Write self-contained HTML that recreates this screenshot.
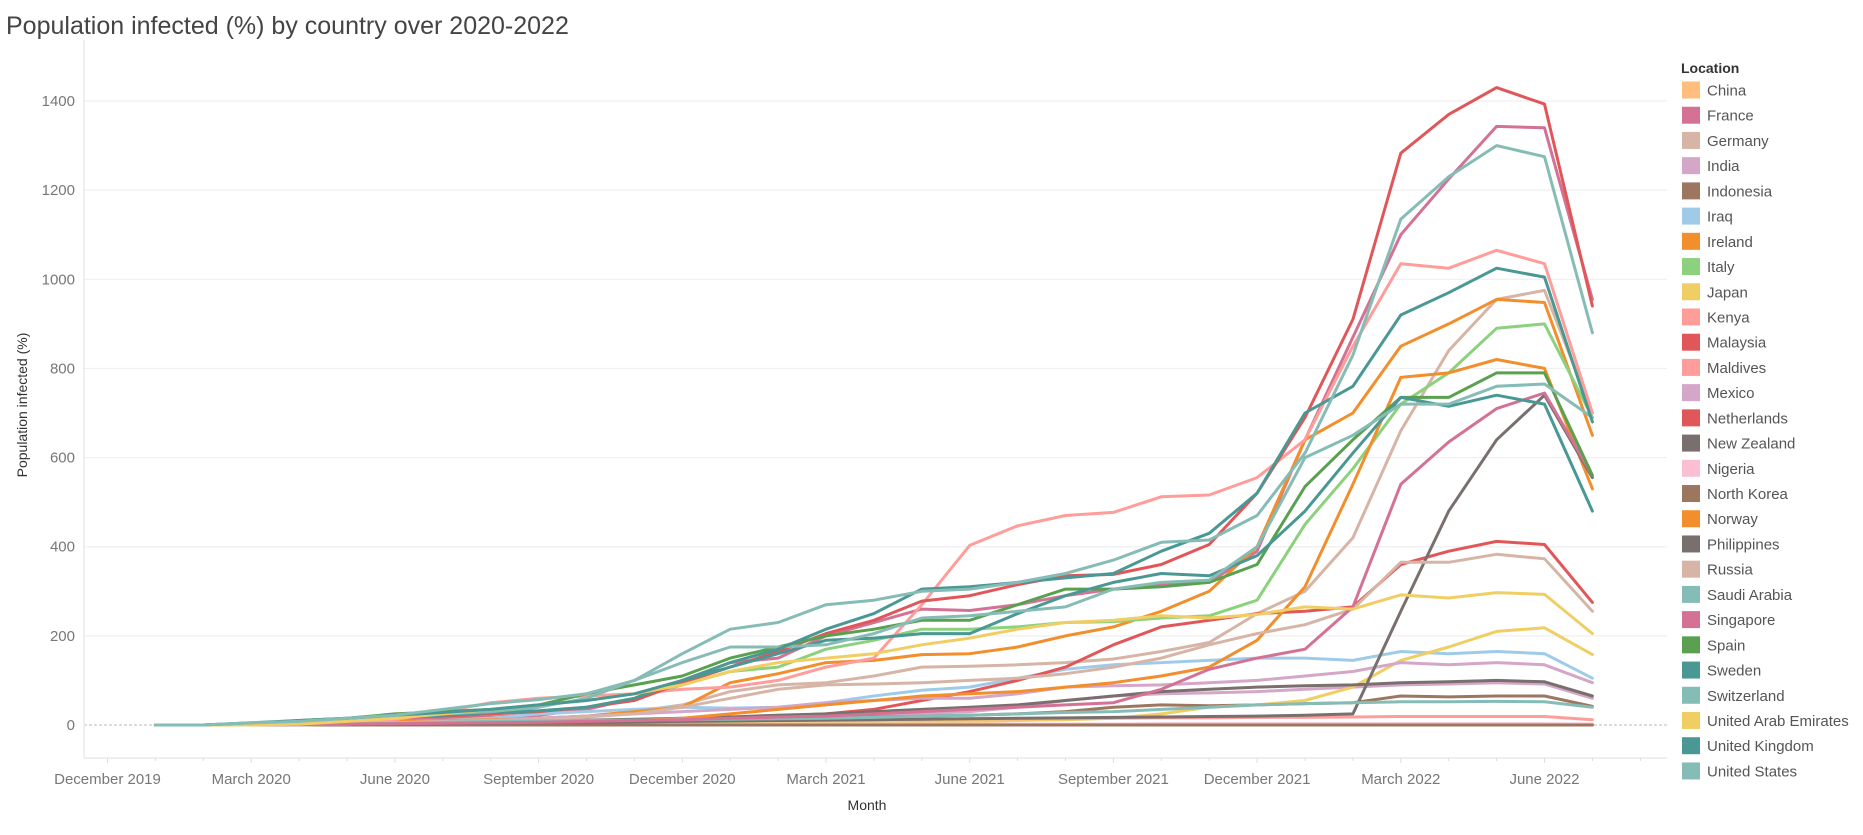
<!DOCTYPE html>
<html><head><meta charset="utf-8"><style>
body{margin:0;background:#fff;}
svg text{font-family:"Liberation Sans",sans-serif;}
</style></head><body>
<svg id="chart" width="1863" height="830" xmlns="http://www.w3.org/2000/svg">
<text x="6" y="34" font-size="25" fill="#444">Population infected (%) by country over 2020-2022</text>
<g id="grid"></g>
<g id="axes"></g>
<g id="lines"></g>
<text transform="translate(27,405) rotate(-90)" text-anchor="middle" font-size="14" fill="#333">Population infected (%)</text>
<text x="867" y="810" text-anchor="middle" font-size="14" fill="#333">Month</text>
<g id="legend"></g>
</svg>
<script>
const months = 31;
const yTicks = [0,200,400,600,800,1000,1200,1400];
const xTickLabels = ["December 2019","March 2020","June 2020","September 2020","December 2020","March 2021","June 2021","September 2021","December 2021","March 2022","June 2022"];
const xTickIdx = [-1,2,5,8,11,14,17,20,23,26,29];
const countries = ["China","France","Germany","India","Indonesia","Iraq","Ireland","Italy","Japan","Kenya","Malaysia","Maldives","Mexico","Netherlands","New Zealand","Nigeria","North Korea","Norway","Philippines","Russia","Saudi Arabia","Singapore","Spain","Sweden","Switzerland","United Arab Emirates","United Kingdom","United States"];
const colors = ["#ffbe7d","#d37295","#d7b5a6","#d4a6c8","#9d7660","#a0cbe8","#f28e2b","#8cd17d","#f1ce63","#ff9d9a","#e15759","#ff9d9a","#d4a6c8","#e15759","#79706e","#fabfd2","#9d7660","#f28e2b","#79706e","#d7b5a6","#86bcb6","#d37295","#59a14f","#499894","#86bcb6","#f1ce63","#499894","#86bcb6"];
const china = [0,0,0,0,0,0,0,0,0,0,0,0,0,0,0,0,0,0,0,0,0,0,0,0,0,0,1,1,1,1,1];
const france = [0,0,1,4,8,12,15,18,22,35,60,100,140,150,200,230,260,257,270,290,305,315,320,390,640,870,1100,1225,1343,1340,955];
const germany = [0,0,0,2,5,8,10,12,15,20,30,45,75,90,95,110,130,132,135,140,148,165,185,250,300,420,660,840,955,975,700];
const india = [0,0,0,0,0,1,2,3,5,6,7,8,10,12,15,20,25,30,40,55,65,70,72,75,80,85,90,92,95,92,60];
const indonesia = [0,0,0,0,0,0,1,2,3,4,6,8,10,12,15,18,20,22,25,30,40,45,43,45,48,50,65,63,65,65,42];
const iraq = [0,0,0,0,2,5,10,15,25,30,35,40,38,40,50,65,78,85,105,125,135,140,145,150,150,145,165,160,165,160,105];
const ireland = [0,0,1,3,5,8,10,12,15,20,30,40,95,115,140,145,158,160,175,200,220,255,300,400,640,700,850,900,955,948,650];
const italy = [0,0,1,5,12,20,22,25,30,40,60,90,120,130,170,190,215,215,220,230,232,240,245,280,450,575,720,790,890,900,690];
const japan = [0,0,0,0,0,1,1,1,2,2,3,3,4,5,5,6,7,8,10,12,15,25,40,45,55,85,145,175,210,218,158];
const kenya = [0,0,0,0,1,2,3,4,5,6,7,8,9,10,11,12,13,14,14,15,15,16,16,17,17,18,19,19,19,19,12];
const malaysia = [0,0,0,0,1,1,2,3,4,5,7,10,15,20,25,35,55,75,100,130,180,220,235,250,255,265,360,390,412,405,275];
const maldives = [0,0,0,2,5,12,30,50,60,65,70,80,85,100,130,150,270,403,447,470,477,512,516,555,640,850,1035,1025,1065,1035,700];
const mexico = [0,0,0,0,0,2,5,10,15,20,25,30,35,40,50,55,60,60,70,85,88,90,95,100,110,120,140,135,140,135,95];
const netherlands = [0,0,1,5,10,18,20,25,30,40,55,95,130,165,205,235,278,290,315,335,338,360,405,520,690,910,1283,1370,1430,1393,940];
const newZealand = [0,0,0,1,2,3,5,7,9,11,13,15,18,22,25,30,35,40,45,55,65,75,80,85,88,90,95,97,100,97,65];
const nigeria = [0,0,0,0,0,0,1,1,1,1,1,1,1,2,2,2,2,2,2,2,2,3,3,3,3,3,3,3,3,3,2];
const northKorea = [0,0,0,0,0,0,0,0,0,0,0,0,0,0,0,0,0,0,0,0,0,0,0,0,0,0,0,0,0,0,0];
const norway = [0,0,0,1,2,3,4,5,6,8,10,15,25,35,45,55,65,70,75,85,95,110,130,190,310,540,780,790,820,800,530];
const philippines = [0,0,0,0,1,2,3,4,5,6,7,8,9,10,11,12,13,14,15,16,17,18,19,20,22,25,255,480,640,740,555];
const russia = [0,0,0,0,2,5,8,10,12,18,25,40,60,80,90,92,95,100,105,115,130,150,180,205,225,260,365,365,383,373,255];
const saudi = [0,0,0,1,2,4,6,8,9,10,11,12,13,14,15,17,20,22,25,28,30,35,40,45,48,50,52,52,53,52,40];
const singapore = [0,0,0,1,2,3,4,5,6,8,10,12,15,18,20,25,30,35,40,45,50,80,125,150,170,265,540,635,710,745,560];
const spain = [0,0,3,10,15,25,30,35,45,70,90,110,150,175,200,215,235,235,270,305,305,310,320,360,535,640,735,735,790,790,560];
const sweden = [0,0,3,8,12,18,22,28,32,40,60,100,130,160,190,195,205,205,250,290,320,340,335,380,480,610,735,715,740,720,480];
const switzerland = [0,0,1,5,12,20,25,30,40,60,100,140,175,175,180,205,240,245,255,265,305,320,325,400,600,650,720,720,760,765,690];
const uae = [0,0,0,2,8,15,25,35,45,55,70,90,120,140,150,160,180,195,215,230,235,245,240,248,265,260,292,285,297,293,205];
const uk = [0,0,5,10,15,22,28,35,45,55,70,100,140,170,215,250,305,310,320,330,340,390,430,520,700,760,920,970,1025,1005,680];
const us = [0,0,5,8,15,22,35,48,57,70,100,160,215,230,270,280,300,305,320,340,370,410,415,470,610,830,1135,1230,1300,1275,880];
const seriesValues = [china,france,germany,india,indonesia,iraq,ireland,italy,japan,kenya,malaysia,maldives,mexico,netherlands,newZealand,nigeria,northKorea,norway,philippines,russia,saudi,singapore,spain,sweden,switzerland,uae,uk,us];

const NS="http://www.w3.org/2000/svg";
const L=84,R=1667,T=40,B=758;
function xScale(i){return 155.4+47.9*i;}
function yScale(v){return 725-v*0.4457;}
function mk(tag,attrs,parent){const e=document.createElementNS(NS,tag);for(const k in attrs)e.setAttribute(k,attrs[k]);parent.appendChild(e);return e;}
const grid=document.getElementById('grid'),axes=document.getElementById('axes'),lines=document.getElementById('lines'),legend=document.getElementById('legend');
yTicks.forEach(t=>{
  if(t>0){const g=mk('line',{x1:L,x2:R,y1:yScale(t),y2:yScale(t),stroke:'#efefef','stroke-width':1.2},grid);
  
  }
  const tx=mk('text',{x:75,y:yScale(t)+5,'text-anchor':'end','font-size':15,fill:'#777'},axes);
  tx.textContent=t;
  
  
});
const zl=mk('line',{x1:L,x2:R,y1:yScale(0),y2:yScale(0),stroke:'#bbb','stroke-width':1,'stroke-dasharray':'3,2'},grid);


const ya=mk('line',{x1:L,x2:L,y1:T,y2:B,stroke:'#eaeaea','stroke-width':1.5},axes);


const xa=mk('line',{x1:L,x2:R,y1:B,y2:B,stroke:'#eaeaea','stroke-width':1.5},axes);


for(let i=-1;i<=months+1;i++){
  const x=xScale(i); if(x<L||x>R) continue;
  const major=xTickIdx.indexOf(i)>=0;
  const tk=mk('line',{x1:x,x2:x,y1:B,y2:B+(major?5:3),stroke:'#ddd','stroke-width':1},axes);
  
  
}
xTickLabels.forEach((lab,k)=>{
  const tx=mk('text',{x:xScale(xTickIdx[k]),y:784,'text-anchor':'middle','font-size':15,fill:'#777'},axes);
  tx.textContent=lab;
  
  
});
seriesValues.forEach((vals,s)=>{
  const d=vals.map((v,i)=>(i?'L':'M')+xScale(i).toFixed(1)+','+yScale(v).toFixed(1)).join(' ');
  const p=mk('path',{d:d,fill:'none',stroke:colors[s],'stroke-width':3,'stroke-linejoin':'round','stroke-linecap':'round'},lines);
  
  
});
const lt=mk('text',{x:1681,y:73,'font-size':14,'font-weight':'bold',fill:'#333'},legend);
lt.textContent='Location';


countries.forEach((c,k)=>{
  const y=90+k*25.22;
  const g=mk('g',{},legend);
  
  
  mk('rect',{x:1682,y:y-8.5,width:18,height:17,fill:colors[k]},g);
  const t=mk('text',{x:1707,y:y+5.5,'font-size':15,fill:'#555'},g);
  t.textContent=c;
});
</script>
</body></html>
